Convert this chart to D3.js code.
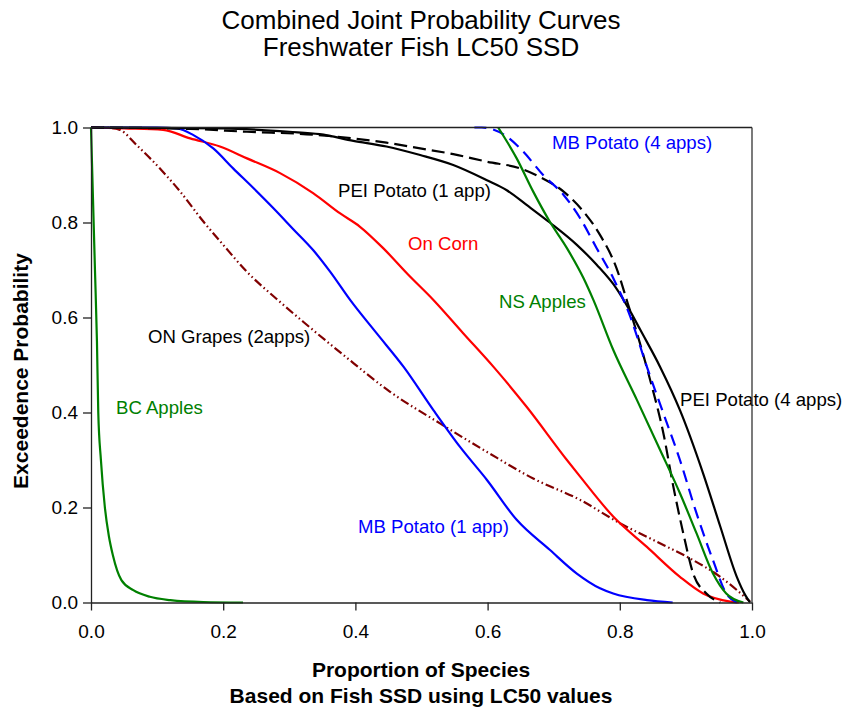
<!DOCTYPE html>
<html><head><meta charset="utf-8">
<script src="https://cdn.jsdelivr.net/npm/d3@7"></script>
<style>body{margin:0;background:#fff}svg{display:block}text{font-family:Arial,"Liberation Sans",sans-serif}</style>
</head><body><svg id="c" width="843" height="710"></svg>
<script>
// ---- data (proportion of species, exceedence probability) ----
const xTicks = [0, 0.2, 0.4, 0.6, 0.8, 1.0];
const yTicks = [0, 0.2, 0.4, 0.6, 0.8, 1.0];

const bcApples = [[0,1.0],[0.003,0.85],[0.006,0.7],[0.009,0.55],[0.011,0.4],[0.015,0.3],[0.021,0.2],[0.027,0.14],[0.033,0.1],[0.046,0.047],[0.064,0.026],[0.089,0.012],[0.12,0.005],[0.17,0.001],[0.23,0]];
const onGrapes = [[0,1.0],[0.03,0.999],[0.044,0.995],[0.069,0.963],[0.104,0.914],[0.135,0.865],[0.17,0.802],[0.2,0.753],[0.236,0.696],[0.28,0.64],[0.321,0.591],[0.382,0.521],[0.452,0.444],[0.528,0.377],[0.599,0.317],[0.669,0.261],[0.74,0.216],[0.8,0.167],[0.866,0.121],[0.906,0.093],[0.952,0.054],[0.997,0.002]];
const onCorn = [[0,1.0],[0.05,0.998],[0.109,0.995],[0.15,0.977],[0.195,0.96],[0.236,0.935],[0.286,0.904],[0.336,0.862],[0.377,0.819],[0.407,0.791],[0.442,0.746],[0.48,0.69],[0.518,0.637],[0.563,0.567],[0.609,0.496],[0.659,0.412],[0.72,0.30],[0.74,0.265],[0.79,0.181],[0.841,0.117],[0.891,0.054],[0.926,0.019],[0.967,0.002],[0.98,0]];
const mbPotato1 = [[0,1.0],[0.1,1.0],[0.13,0.998],[0.155,0.984],[0.185,0.956],[0.215,0.914],[0.246,0.872],[0.276,0.83],[0.306,0.786],[0.336,0.742],[0.362,0.696],[0.392,0.637],[0.432,0.567],[0.473,0.496],[0.518,0.405],[0.558,0.328],[0.599,0.258],[0.644,0.174],[0.694,0.111],[0.735,0.061],[0.77,0.03],[0.79,0.019],[0.841,0.005],[0.88,0]];
const peiPotato1 = [[0,1.0],[0.2,0.998],[0.3,0.991],[0.346,0.986],[0.397,0.972],[0.447,0.96],[0.498,0.942],[0.548,0.921],[0.599,0.889],[0.629,0.868],[0.659,0.837],[0.694,0.8],[0.735,0.753],[0.765,0.711],[0.795,0.661],[0.815,0.615],[0.831,0.574],[0.861,0.496],[0.891,0.405],[0.926,0.272],[0.952,0.16],[0.977,0.054],[0.99,0.015],[0.997,0]];
const peiPotato4 = [[0,1.0],[0.15,0.997],[0.236,0.991],[0.336,0.985],[0.397,0.977],[0.447,0.968],[0.498,0.956],[0.548,0.944],[0.599,0.928],[0.649,0.914],[0.679,0.896],[0.715,0.865],[0.745,0.823],[0.77,0.774],[0.795,0.704],[0.812,0.63],[0.826,0.567],[0.846,0.468],[0.866,0.356],[0.881,0.244],[0.896,0.146],[0.911,0.061],[0.931,0.019],[0.952,0]];
const mbPotato4 = [[0.58,1.0],[0.591,1.0],[0.629,0.981],[0.654,0.949],[0.684,0.9],[0.715,0.858],[0.74,0.809],[0.765,0.746],[0.79,0.683],[0.815,0.605],[0.841,0.496],[0.866,0.398],[0.891,0.3],[0.916,0.188],[0.941,0.089],[0.961,0.019],[0.977,0]];
const nsApples = [[0.616,1.0],[0.644,0.935],[0.669,0.865],[0.694,0.802],[0.72,0.746],[0.745,0.683],[0.76,0.637],[0.79,0.532],[0.826,0.426],[0.861,0.321],[0.891,0.23],[0.916,0.146],[0.941,0.061],[0.961,0.019],[0.987,0]];

const series = [
  {name:"BC Apples", data:bcApples, color:"#008000", dash:null},
  {name:"ON Grapes (2apps)", data:onGrapes, color:"#800000", dash:"9,3,1.5,3,1.5,3"},
  {name:"On Corn", data:onCorn, color:"#ff0000", dash:null},
  {name:"MB Potato (1 app)", data:mbPotato1, color:"#0000ff", dash:null},
  {name:"PEI Potato (1 app)", data:peiPotato1, color:"#000000", dash:null},
  {name:"PEI Potato (4 apps)", data:peiPotato4, color:"#000000", dash:"13,6"},
  {name:"MB Potato (4 apps)", data:mbPotato4, color:"#0000ff", dash:"12,7"},
  {name:"NS Apples", data:nsApples, color:"#008000", dash:null}
];
</script>
<script>
const svg = d3.select("#c");
const M = {l:91, r:752, t:127.5, b:602.5};
const x = d3.scaleLinear().domain([0,1]).range([M.l, M.r]);
const y = d3.scaleLinear().domain([0,1]).range([M.b, M.t]);

// titles
svg.append("text").attr("x",421).attr("y",29).attr("text-anchor","middle").attr("font-size",26).text("Combined Joint Probability Curves");
svg.append("text").attr("x",421).attr("y",56).attr("text-anchor","middle").attr("font-size",26).text("Freshwater Fish LC50 SSD");

const line = d3.line().x(d=>x(d[0])).y(d=>y(d[1])).curve(d3.curveMonotoneX);
const g = svg.append("g");
series.forEach(s=>{
  g.append("path").attr("d",line(s.data)).attr("fill","none")
   .attr("stroke",s.color).attr("stroke-width",2.2)
   .attr("stroke-dasharray",s.dash);
});

// curve labels (pixel-positioned annotation text)
const ann = [
  ["MB Potato (4 apps)",552,149,"#0000ff"],
  ["PEI Potato (1 app)",338,197,"#000"],
  ["On Corn",408,250,"#ff0000"],
  ["NS Apples",499,308,"#008000"],
  ["ON Grapes (2apps)",148,343,"#000"],
  ["BC Apples",116,414,"#008000"],
  ["MB Potato (1 app)",358,533,"#0000ff"],
  ["PEI Potato (4 apps)",680,406,"#000"]
];
ann.forEach(a=>svg.append("text").attr("x",a[1]).attr("y",a[2]).attr("font-size",18.6).attr("fill",a[3]).text(a[0]));

// axes
const xa = svg.append("g").attr("transform",`translate(0,${M.b})`)
  .call(d3.axisBottom(x).tickValues(xTicks).tickFormat(d3.format(".1f")).tickSize(8).tickSizeOuter(0));
const ya = svg.append("g").attr("transform",`translate(${M.l},0)`)
  .call(d3.axisLeft(y).tickValues(yTicks).tickFormat(d3.format(".1f")).tickSize(8).tickSizeOuter(0));
[xa,ya].forEach(a=>{
  a.selectAll("path.domain").attr("stroke","#222").attr("stroke-width",1.3);
  a.selectAll(".tick line").attr("stroke","#222").attr("stroke-width",1.3);
  a.selectAll(".tick text").attr("font-size",19).attr("font-family","Arial,'Liberation Sans',sans-serif").attr("fill","#000");
});
xa.selectAll(".tick text").attr("dy","1.3em");
ya.selectAll(".tick text").attr("x",-13);
// top and right frame
svg.append("line").attr("x1",M.l).attr("x2",M.r).attr("y1",M.t).attr("y2",M.t).attr("stroke","#222").attr("stroke-width",1.3);
svg.append("line").attr("x1",M.r).attr("x2",M.r).attr("y1",M.t).attr("y2",M.b).attr("stroke","#333").attr("stroke-width",1.3);

// axis titles
svg.append("text").attr("x",421).attr("y",677).attr("text-anchor","middle").attr("font-size",21).attr("font-weight","bold").text("Proportion of Species");
svg.append("text").attr("x",421).attr("y",703).attr("text-anchor","middle").attr("font-size",21).attr("font-weight","bold").text("Based on Fish SSD using LC50 values");
svg.append("text").attr("transform","translate(28,371) rotate(-90)").attr("text-anchor","middle").attr("font-size",21).attr("font-weight","bold").text("Exceedence Probability");
</script>
</body></html>
